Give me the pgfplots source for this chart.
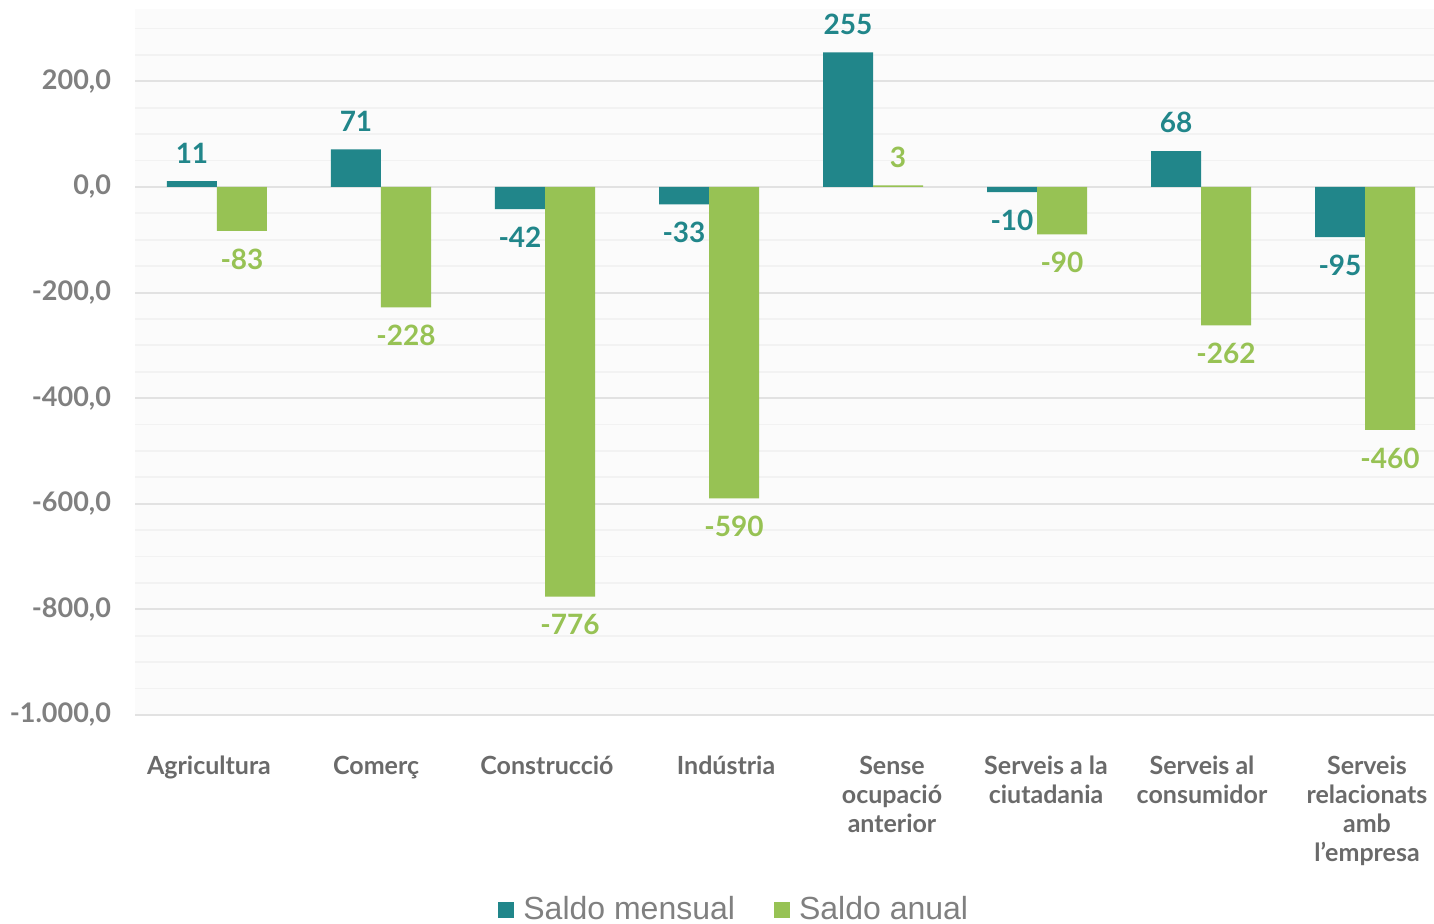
\documentclass[border=0pt]{standalone}
\usepackage{fontspec}
\setmainfont{Lato}
\newfontfamily\legfont{Liberation Sans}
\usepackage{pgfplots}
\pgfplotsset{compat=1.18}
\definecolor{teal1}{HTML}{21868A}
\definecolor{green1}{HTML}{97C254}
\definecolor{tickgray}{HTML}{808080}
\definecolor{catgray}{HTML}{6A6A6A}
\definecolor{majgrid}{HTML}{E2E2E2}
\definecolor{mingrid}{HTML}{F2F2F2}
\begin{document}
\begin{tikzpicture}
\begin{axis}[
  scale only axis,
  width=656pt, height=353pt,
  xmin=-0.5, xmax=7.5,
  ymin=-1000, ymax=337,
  ybar=0pt, bar width=25pt,
  axis line style={draw=none},
  axis background/.style={fill=gray!3},
  major tick length=0pt, minor tick length=0pt,
  ytick={-1000,-800,-600,-400,-200,0,200},
  minor ytick={-950,-900,-850,-750,-700,-650,-550,-500,-450,-350,-300,-250,-150,-100,-50,50,100,150,250,300},
  ymajorgrids, yminorgrids,
  major grid style={majgrid, line width=1pt},
  minor grid style={mingrid, line width=0.9pt},
  yticklabel={\pgfmathprintnumber[fixed,fixed zerofill,precision=1,use comma,1000 sep={.}]{\tick}},
  /pgf/number format/assume math mode=true,
  yticklabel style={font=\fontsize{13.5}{15}\selectfont\bfseries, text=tickgray, xshift=-8.5pt},
  xtick={-0.049,0.970,2.012,3.104,4.116,5.055,6.006,7.012},
  xticklabels={Agricultura,Comerç,Construcció,Indústria,{Sense\\ocupació\\anterior},{Serveis a la\\ciutadania},{Serveis al\\consumidor},{Serveis\\relacionats\\amb\\l’empresa}},
  xticklabel style={font=\fontsize{12.5}{14.5}\selectfont\bfseries, text=catgray, align=center, anchor=north, yshift=-17pt},
  clip=false,
  point meta=y,
  nodes near coords={\pgfmathprintnumber[fixed,precision=0]{\pgfplotspointmeta}},
  nodes near coords align={vertical},
  every node near coord/.append style={font=\fontsize{14}{16}\selectfont\bfseries, inner xsep=0pt, inner ysep=8.8pt},
  legend columns=2,
  legend style={at={(axis description cs:0.4575,-0.276)}, anchor=center, draw=none, fill=none,
    font=\legfont\fontsize{16}{18}\selectfont, text=tickgray,
    /tikz/every even column/.append style={column sep=17.5pt}},
  legend image code/.code={\fill[#1] (0pt,-4pt) rectangle (8pt,4pt); \path (10.5pt,0pt);},
]
\addplot[fill=teal1, draw=none, every node near coord/.append style={text=teal1}] coordinates {
 (0,11) (1,71) (2,-42) (3,-33) (4,255) (5,-10) (6,68) (7,-95)};
\addplot[fill=green1, draw=none, every node near coord/.append style={text=green1}] coordinates {
 (0,-83) (1,-228) (2,-776) (3,-590) (4,3) (5,-90) (6,-262) (7,-460)};
\legend{Saldo mensual, Saldo anual}
\end{axis}
\pgfresetboundingbox
\path (-67.5pt,-104.5pt) rectangle (649.5pt,357.5pt);
\end{tikzpicture}
\end{document}
